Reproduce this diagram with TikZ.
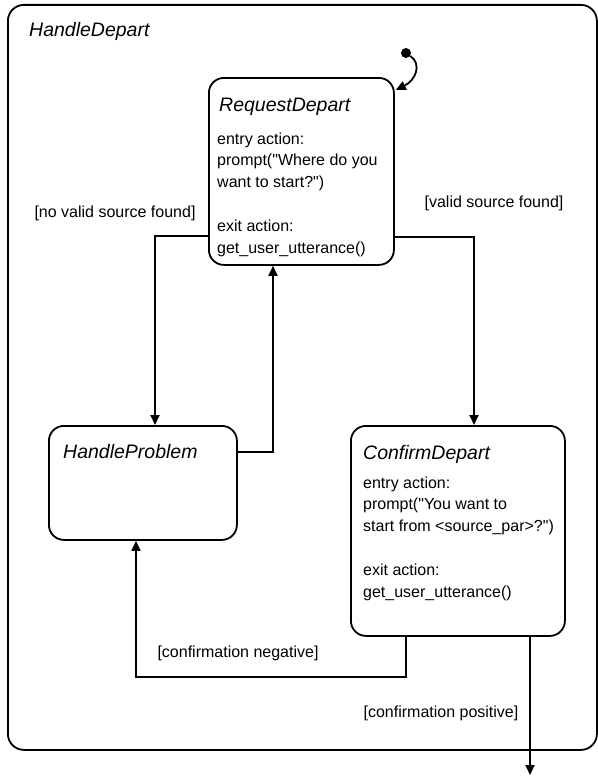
\documentclass[tikz,border=0pt]{standalone}
\usepackage{fontspec}
\setmainfont{Liberation Sans}
\usetikzlibrary{arrows.meta}

\begin{document}
\begin{tikzpicture}[x=1pt,y=-1pt,
  state/.style={draw,line width=1.8pt,rounded corners=15pt,inner sep=0pt,anchor=north west},
  title/.style={font=\fontsize{19.5}{22}\selectfont\itshape,inner sep=0pt,anchor=base west},
  body/.style={font=\fontsize{16}{21.8}\selectfont,inner sep=0pt,anchor=base west},
  guard/.style={font=\fontsize{16}{20}\selectfont,inner sep=0pt},
  flow/.style={line width=1.8pt,-{Triangle[length=10pt,width=9pt]}}]
\useasboundingbox (0,0) rectangle (597,776);
\node[state,minimum width=589pt,minimum height=745pt,rounded corners=16pt] (depart) at (7,4) {};
\node[title] (departT) at ([shift={(22,33)}]depart.north west) {HandleDepart};
\node[state,minimum width=185pt,minimum height=187pt] (req) at (208,77) {};
\node[title] (reqT) at ([shift={(11,34)}]req.north west) {RequestDepart};
\node[body] (reqB) at ([shift={(9,67)}]req.north west) {\begin{tabular}[t]{@{}l@{}}entry action:\\prompt(\textquotedbl Where do you\\want to start?\textquotedbl)\\[21.8pt]exit action:\\get\_user\_utterance()\end{tabular}};
\node[state,minimum width=188pt,minimum height=114pt] (hp) at (48,425) {};
\node[title] (hpT) at ([shift={(15,33)}]hp.north west) {HandleProblem};
\node[state,minimum width=214pt,minimum height=210pt] (cd) at (350,425) {};
\node[title] (cdT) at ([shift={(13,34)}]cd.north west) {ConfirmDepart};
\node[body] (cdB) at ([shift={(13,63)}]cd.north west) {\begin{tabular}[t]{@{}l@{}}entry action:\\prompt(\textquotedbl You want to\\start from <source\_par>?\textquotedbl)\\[21.8pt]exit action:\\get\_user\_utterance()\end{tabular}};
\node[circle,fill,inner sep=0pt,minimum size=10pt] (init) at (406,53) {};
\coordinate (out) at (530,775);
\draw[flow] (init) .. controls (422,64) and (416,80) .. ([shift={(1,13)}]req.north east);
\draw[flow] (req.west |- 0,236) -| (hp.north -| 155,0);
\node[guard] (noValid) at (115,213) {[no valid source found]};
\draw[flow] (hp.east |- 0,452) -| (req.south -| 273,0);
\draw[flow] (req.east |- 0,237) -| (cd.north -| 474,0);
\node[guard] (valid) at (494,203) {[valid source found]};
\draw[flow] (cd.south -| 406,0) |- (136,677) -- (hp.south -| 136,0);
\node[guard] (neg) at (238,653) {[confirmation negative]};
\draw[flow] (cd.south -| 530,0) -- (out);
\node[guard] (pos) at (441,713) {[confirmation positive]};
\end{tikzpicture}
\end{document}
